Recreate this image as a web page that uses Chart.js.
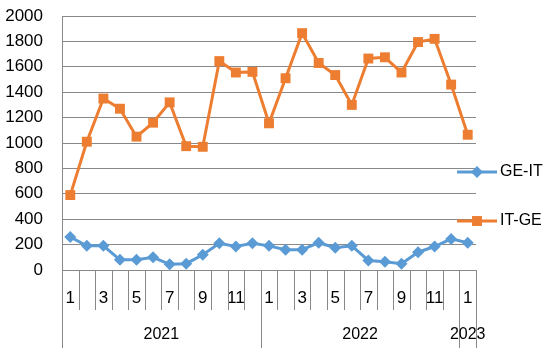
<!DOCTYPE html>
<html lang="en">
<head>
  <meta charset="UTF-8" />
  <title>GE-IT / IT-GE</title>
  <script src="https://cdn.jsdelivr.net/npm/chart.js"></script>
  <style>
    html, body { margin: 0; padding: 0; background: #fff; }
    #wrap { width: 553px; height: 361px; }
  </style>
</head>
<body>
  <div id="wrap"><canvas id="chart"></canvas></div>

  <script>
    // months, grouped by year
    const months = [1,2,3,4,5,6,7,8,9,10,11,12, 1,2,3,4,5,6,7,8,9,10,11,12, 1];
    const years = ["2021", "2022", "2023"];
    const yearSizes = [12, 12, 1];

    const geIt = [260,190,190,80,80,100,45,50,120,210,185,210, 190,160,160,215,175,190,75,65,50,140,185,245, 215];
    const itGe = [590,1010,1350,1270,1050,1160,1320,975,970,1645,1555,1560, 1155,1510,1865,1630,1535,1300,1665,1675,1555,1795,1820,1460, 1065];

    const yTicks = [0,200,400,600,800,1000,1200,1400,1600,1800,2000];

    const blue = "#5B9BD5";
    const orange = "#ED7D31";
    const gridGray = "#898989";
    const font = "'Liberation Sans', Arial, sans-serif";

    // year groups under the month labels, plus the separator lines
    const groupAxis = {
      id: "groupAxis",
      afterDraw(chart) {
        const x = chart.scales.x;
        const ctx = chart.ctx;
        const base = chart.chartArea.bottom;
        const edge = i => {
          if (i <= 0) return x.left;
          if (i >= months.length) return x.right;
          return (x.getPixelForValue(i - 1) + x.getPixelForValue(i)) / 2;
        };
        const yearEdges = [0];
        yearSizes.forEach(n => yearEdges.push(yearEdges[yearEdges.length - 1] + n));

        ctx.save();
        ctx.strokeStyle = gridGray;
        ctx.lineWidth = 1;
        for (let i = 0; i <= months.length; i++) {
          const px = Math.round(edge(i)) + 0.5;
          const long = yearEdges.includes(i) || i === months.length - 1;
          ctx.beginPath();
          ctx.moveTo(px, base);
          ctx.lineTo(px, long ? base + 78 : base + 40);
          ctx.stroke();
        }
        ctx.fillStyle = "#000";
        ctx.font = "16px " + font;
        ctx.textAlign = "center";
        ctx.textBaseline = "middle";
        years.forEach((yr, k) => {
          const cx = (edge(yearEdges[k]) + edge(yearEdges[k + 1])) / 2;
          ctx.fillText(yr, cx, base + 65);
        });

        // legend
        const items = [
          { label: "GE-IT", color: blue, style: "rectRot", r: 6, y: 172 },
          { label: "IT-GE", color: orange, style: "rect", r: 7, y: 221 }
        ];
        ctx.textAlign = "left";
        items.forEach(it => {
          ctx.strokeStyle = it.color;
          ctx.lineWidth = 3;
          ctx.beginPath();
          ctx.moveTo(457, it.y);
          ctx.lineTo(497, it.y);
          ctx.stroke();
          ctx.fillStyle = it.color;
          Chart.helpers.drawPoint(ctx, { pointStyle: it.style, radius: it.r, borderWidth: 0 }, 477, it.y);
          ctx.fillStyle = "#000";
          ctx.fillText(it.label, 500, it.y);
        });
        ctx.restore();
      }
    };

    new Chart(document.getElementById("chart"), {
      type: "line",
      data: {
        labels: months,
        datasets: [
          {
            label: "GE-IT",
            data: geIt,
            borderColor: blue,
            backgroundColor: blue,
            borderWidth: 3,
            pointStyle: "rectRot",
            pointRadius: 6,
            pointBorderWidth: 0,
            tension: 0
          },
          {
            label: "IT-GE",
            data: itGe,
            borderColor: orange,
            backgroundColor: orange,
            borderWidth: 3,
            pointStyle: "rect",
            pointRadius: 7,
            pointBorderWidth: 0,
            tension: 0
          }
        ]
      },
      options: {
        responsive: true,
        maintainAspectRatio: false,
        animation: false,
        layout: { padding: { top: 16, right: 77, bottom: 0, left: 0 } },
        plugins: {
          legend: { display: false },
          tooltip: { enabled: false }
        },
        scales: {
          x: {
            type: "category",
            offset: true,
            grid: { display: false, drawTicks: false },
            border: { display: false },
            ticks: {
              autoSkip: false,
              maxRotation: 0,
              padding: 18,
              color: "#000",
              font: { family: font, size: 17 },
              callback: (v, i) => (i % 2 === 0 ? String(months[i]) : "")
            },
            afterFit: s => { s.height = 91; }
          },
          y: {
            min: 0,
            max: 2000,
            afterBuildTicks: s => { s.ticks = yTicks.map(v => ({ value: v })); },
            grid: { color: gridGray, drawTicks: true, tickLength: 19, tickColor: "rgba(0,0,0,0)" },
            border: { display: true, color: gridGray },
            ticks: {
              padding: 0,
              color: "#000",
              font: { family: font, size: 17 },
              callback: v => String(v)
            },
            afterFit: s => { s.width = 62; }
          }
        }
      },
      plugins: [groupAxis]
    });
  </script>
</body>
</html>
